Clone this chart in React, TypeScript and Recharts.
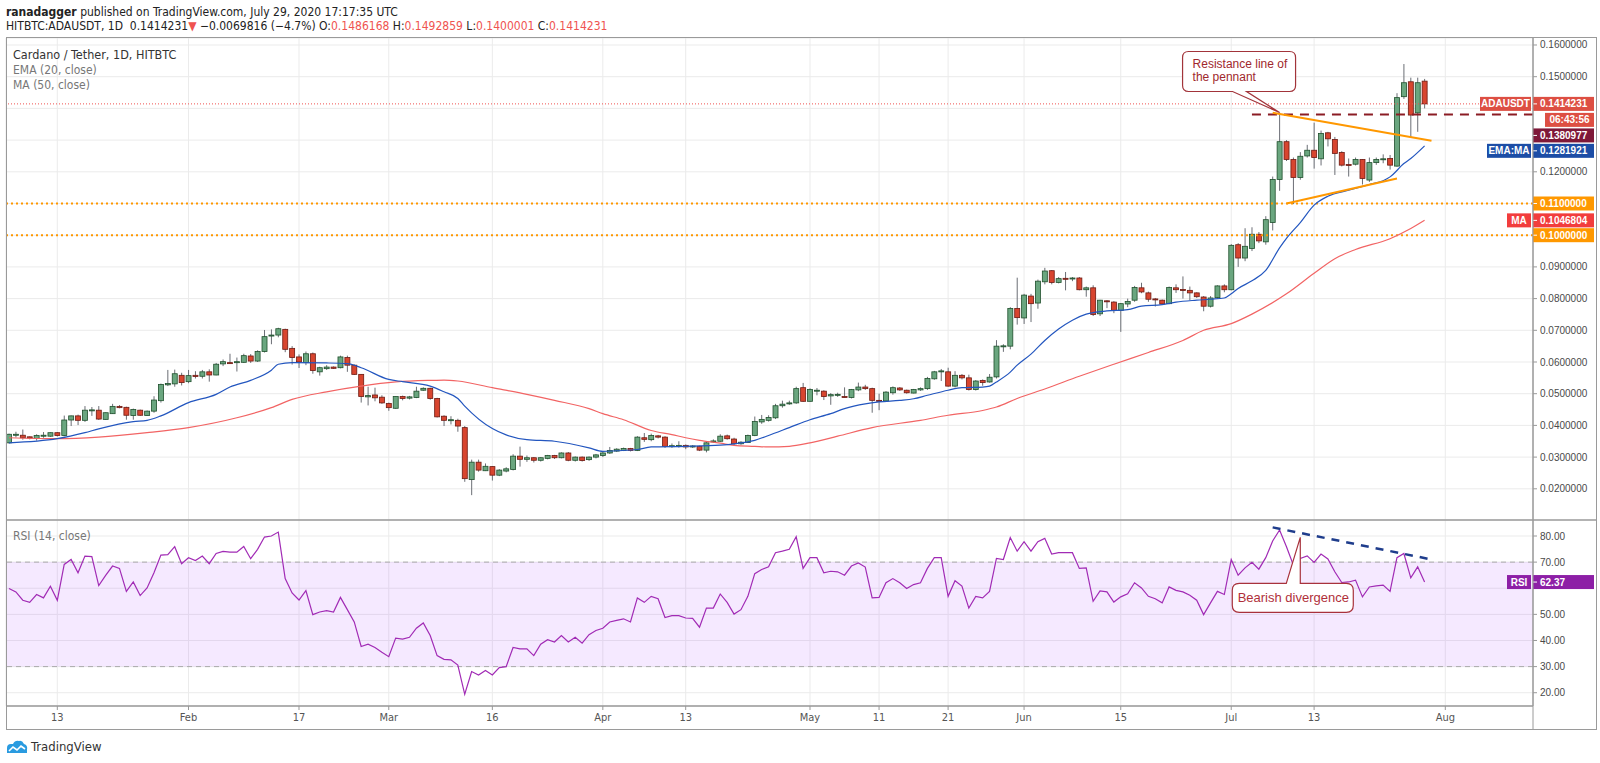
import React from "react";
import {
  ComposedChart,
  Bar,
  Line,
  XAxis,
  YAxis,
  CartesianGrid,
  ReferenceLine,
  ReferenceDot,
  ReferenceArea,
} from "recharts";

// daily candles, Jan 6 2020 (index 0) to Jul 29 2020 (index 205)
const opens = [
  0.0345, 0.037, 0.0369, 0.0364, 0.0359, 0.0367, 0.0366, 0.0377, 0.0368, 0.0417,
  0.043, 0.0416, 0.0448, 0.0448, 0.0419, 0.0437, 0.046, 0.0457, 0.0431, 0.0448,
  0.0431, 0.0445, 0.0478, 0.0528, 0.0531, 0.0558, 0.0538, 0.0558, 0.0555, 0.0569,
  0.0559, 0.0594, 0.0598, 0.0599, 0.0599, 0.0619, 0.0603, 0.0633, 0.0683, 0.0685,
  0.0703, 0.0643, 0.0616, 0.0598, 0.0626, 0.0569, 0.0579, 0.0584, 0.0582, 0.0614,
  0.059, 0.0561, 0.049, 0.0496, 0.0489, 0.0469, 0.0454, 0.0491, 0.0486, 0.0488,
  0.0511, 0.0517, 0.0485, 0.0429, 0.0417, 0.0416, 0.0393, 0.0229, 0.0284, 0.0257,
  0.027, 0.0243, 0.0256, 0.0261, 0.0303, 0.0293, 0.0298, 0.029, 0.0296, 0.0305,
  0.0298, 0.0313, 0.029, 0.03, 0.0292, 0.03, 0.0305, 0.0313, 0.0319, 0.0321,
  0.0327, 0.0321, 0.0361, 0.0355, 0.0367, 0.0363, 0.0333, 0.0334, 0.0337, 0.0332,
  0.0334, 0.0322, 0.0349, 0.035, 0.0367, 0.0357, 0.0342, 0.0346, 0.0368, 0.0411,
  0.0416, 0.0424, 0.0462, 0.0468, 0.0471, 0.0519, 0.0476, 0.051, 0.0508, 0.0493,
  0.0497, 0.0491, 0.0488, 0.0512, 0.0521, 0.0516, 0.0479, 0.0477, 0.0503, 0.0518,
  0.0511, 0.0502, 0.0512, 0.0516, 0.0547, 0.057, 0.0569, 0.0524, 0.0558, 0.055,
  0.0513, 0.0542, 0.0537, 0.0553, 0.065, 0.065, 0.0769, 0.0739, 0.0808, 0.0786,
  0.0853, 0.0888, 0.0851, 0.0864, 0.0864, 0.0865, 0.0828, 0.0834, 0.0752, 0.0793,
  0.0789, 0.0763, 0.0783, 0.0795, 0.0834, 0.0818, 0.0799, 0.0795, 0.0784, 0.0834,
  0.0829, 0.0826, 0.0818, 0.0805, 0.0776, 0.0803, 0.084, 0.0828, 0.097, 0.0928,
  0.0958, 0.1003, 0.0979, 0.104, 0.1176, 0.1295, 0.1239, 0.1182, 0.125, 0.1268,
  0.1241, 0.1323, 0.1302, 0.1261, 0.1223, 0.1224, 0.1239, 0.1174, 0.1229, 0.124,
  0.1242, 0.1218, 0.1437, 0.1484, 0.1386, 0.1486,
];

const highs = [
  0.0374, 0.038, 0.0387, 0.0365, 0.0372, 0.0379, 0.0378, 0.0379, 0.0431, 0.0431,
  0.0434, 0.0461, 0.0458, 0.0461, 0.0441, 0.0468, 0.0464, 0.0459, 0.0453, 0.045,
  0.0447, 0.0492, 0.0532, 0.0575, 0.0576, 0.0566, 0.0575, 0.0571, 0.0575, 0.0577,
  0.0597, 0.0608, 0.0626, 0.0614, 0.0626, 0.0625, 0.0637, 0.0701, 0.0703, 0.0708,
  0.0705, 0.065, 0.0624, 0.0633, 0.063, 0.0585, 0.059, 0.0586, 0.062, 0.062,
  0.0592, 0.0562, 0.0522, 0.0519, 0.0495, 0.0472, 0.0492, 0.0494, 0.0493, 0.0522,
  0.052, 0.0519, 0.0487, 0.0432, 0.0429, 0.0421, 0.0398, 0.0292, 0.0292, 0.028,
  0.0271, 0.0262, 0.0268, 0.0309, 0.0333, 0.0305, 0.03, 0.03, 0.0307, 0.0307,
  0.0315, 0.0316, 0.0302, 0.0302, 0.0302, 0.031, 0.0317, 0.0332, 0.0328, 0.033,
  0.0329, 0.0366, 0.0376, 0.0374, 0.037, 0.0366, 0.0343, 0.035, 0.034, 0.0338,
  0.0336, 0.0349, 0.0356, 0.0372, 0.0371, 0.0361, 0.035, 0.0371, 0.0428, 0.0433,
  0.0432, 0.0468, 0.0478, 0.0478, 0.0522, 0.0534, 0.0517, 0.0518, 0.0511, 0.0502,
  0.0503, 0.052, 0.0515, 0.0535, 0.0528, 0.0519, 0.05, 0.0508, 0.0523, 0.0521,
  0.0513, 0.0515, 0.052, 0.0553, 0.0572, 0.0578, 0.0582, 0.0571, 0.0562, 0.056,
  0.0543, 0.0545, 0.0562, 0.0669, 0.0656, 0.0773, 0.0866, 0.0815, 0.0815, 0.086,
  0.0897, 0.089, 0.0868, 0.0884, 0.0868, 0.0868, 0.0838, 0.0842, 0.0796, 0.0795,
  0.0792, 0.0786, 0.08, 0.084, 0.085, 0.0822, 0.0802, 0.0797, 0.0838, 0.0845,
  0.087, 0.0838, 0.082, 0.0808, 0.0808, 0.0842, 0.0845, 0.0972, 0.0975, 0.1022,
  0.1025, 0.101, 0.106, 0.1185, 0.1387, 0.13, 0.1245, 0.1262, 0.1285, 0.1355,
  0.133, 0.1326, 0.131, 0.1265, 0.1242, 0.1245, 0.124, 0.1245, 0.1245, 0.1255,
  0.1253, 0.1448, 0.154, 0.1497, 0.1497, 0.1493,
];

const lows = [
  0.0343, 0.0362, 0.0355, 0.0356, 0.0352, 0.0361, 0.0364, 0.0365, 0.0366, 0.0398,
  0.0401, 0.0411, 0.043, 0.0417, 0.0418, 0.0436, 0.0454, 0.0418, 0.0418, 0.043,
  0.043, 0.044, 0.0472, 0.0524, 0.0522, 0.0526, 0.0533, 0.0548, 0.0548, 0.0538,
  0.0558, 0.0587, 0.0596, 0.057, 0.0597, 0.0597, 0.06, 0.063, 0.0656, 0.0678,
  0.0631, 0.0592, 0.0581, 0.059, 0.0563, 0.0557, 0.0575, 0.0578, 0.058, 0.0569,
  0.0559, 0.0472, 0.0463, 0.0476, 0.0468, 0.0446, 0.0452, 0.0479, 0.0482, 0.0486,
  0.0509, 0.0481, 0.0425, 0.0398, 0.0403, 0.038, 0.0222, 0.018, 0.0254, 0.0256,
  0.0226, 0.024, 0.0252, 0.0258, 0.027, 0.0285, 0.0283, 0.0286, 0.0293, 0.0294,
  0.0296, 0.0287, 0.0286, 0.0286, 0.0288, 0.0296, 0.03, 0.031, 0.0316, 0.0319,
  0.0318, 0.0319, 0.0348, 0.035, 0.0359, 0.0329, 0.0329, 0.033, 0.0325, 0.0329,
  0.0319, 0.0315, 0.0345, 0.0348, 0.0355, 0.0338, 0.0339, 0.0345, 0.0366, 0.0405,
  0.0412, 0.042, 0.0456, 0.0465, 0.0468, 0.0474, 0.0475, 0.0495, 0.048, 0.0465,
  0.049, 0.0488, 0.0485, 0.0508, 0.0512, 0.044, 0.0448, 0.0475, 0.0497, 0.0509,
  0.05, 0.0501, 0.0509, 0.0512, 0.0544, 0.054, 0.0522, 0.052, 0.0545, 0.051,
  0.051, 0.0525, 0.0535, 0.0548, 0.0632, 0.064, 0.0718, 0.072, 0.0726, 0.0768,
  0.0845, 0.0845, 0.0848, 0.0826, 0.0855, 0.0826, 0.0806, 0.0745, 0.0745, 0.077,
  0.0754, 0.0695, 0.0773, 0.079, 0.0817, 0.079, 0.0775, 0.078, 0.0782, 0.0818,
  0.08, 0.0795, 0.0802, 0.076, 0.0772, 0.08, 0.082, 0.0826, 0.09, 0.0918,
  0.095, 0.0975, 0.097, 0.1015, 0.114, 0.1234, 0.1098, 0.1175, 0.1245, 0.121,
  0.122, 0.128, 0.119, 0.1217, 0.1185, 0.122, 0.116, 0.1168, 0.1222, 0.1227,
  0.1207, 0.1216, 0.143, 0.1308, 0.1326, 0.14,
];

const closes = [
  0.0372, 0.0372, 0.0361, 0.036, 0.0368, 0.0369, 0.0377, 0.0368, 0.0417, 0.043,
  0.0416, 0.0448, 0.0449, 0.042, 0.044, 0.046, 0.0456, 0.0432, 0.045, 0.0432,
  0.0445, 0.048, 0.0529, 0.0532, 0.0563, 0.0535, 0.0557, 0.0554, 0.0569, 0.0559,
  0.0593, 0.0601, 0.0597, 0.0601, 0.062, 0.0603, 0.0633, 0.068, 0.0685, 0.0705,
  0.064, 0.0614, 0.06, 0.0626, 0.0573, 0.0582, 0.0584, 0.058, 0.0616, 0.059,
  0.0561, 0.0491, 0.0494, 0.0487, 0.0471, 0.0456, 0.0491, 0.0485, 0.049, 0.0508,
  0.0517, 0.0485, 0.0427, 0.0416, 0.0418, 0.0398, 0.0232, 0.0284, 0.0259, 0.0271,
  0.0243, 0.0259, 0.0263, 0.0303, 0.0293, 0.0298, 0.029, 0.0298, 0.0305, 0.0298,
  0.0313, 0.029, 0.03, 0.0289, 0.03, 0.0307, 0.0313, 0.0321, 0.0325, 0.0327,
  0.0321, 0.0363, 0.0356, 0.0368, 0.0363, 0.0334, 0.0336, 0.0337, 0.0332, 0.0335,
  0.0322, 0.0345, 0.0351, 0.0366, 0.0358, 0.0342, 0.0347, 0.0368, 0.0412, 0.0419,
  0.0425, 0.0462, 0.0467, 0.0471, 0.0516, 0.0476, 0.0513, 0.0511, 0.0491, 0.0497,
  0.0498, 0.049, 0.0513, 0.0521, 0.0516, 0.0479, 0.0477, 0.0505, 0.0519, 0.0512,
  0.0503, 0.0513, 0.0516, 0.0548, 0.0569, 0.0572, 0.0524, 0.0558, 0.055, 0.0513,
  0.054, 0.0535, 0.0552, 0.065, 0.0651, 0.0769, 0.074, 0.0811, 0.0784, 0.0855,
  0.0887, 0.0851, 0.0863, 0.0863, 0.0865, 0.0828, 0.0834, 0.075, 0.0795, 0.0792,
  0.0763, 0.0784, 0.0791, 0.0835, 0.0821, 0.0798, 0.0797, 0.0783, 0.0835, 0.0828,
  0.0828, 0.0818, 0.0806, 0.0776, 0.0802, 0.084, 0.0828, 0.0968, 0.0928, 0.0965,
  0.1003, 0.0982, 0.1049, 0.1176, 0.1295, 0.1239, 0.1182, 0.1249, 0.1268, 0.1245,
  0.1321, 0.1304, 0.1258, 0.1221, 0.1222, 0.1239, 0.1179, 0.1229, 0.1239, 0.1241,
  0.1221, 0.1434, 0.1481, 0.1379, 0.1481, 0.1414231,
];

const rsiValues = [
  59.9, 58.6, 55.4, 54.6, 57.6, 56.3, 60.8, 55.4, 69.1, 71.0,
  65.9, 72.3, 72.1, 61.0, 64.9, 68.5, 67.6, 58.8, 62.4, 57.2,
  60.1, 65.9, 72.7, 72.9, 75.9, 69.4, 71.7, 70.6, 72.3, 69.4,
  73.3, 74.1, 73.8, 73.8, 76.0, 71.3, 74.9, 79.6, 80.0, 81.5,
  63.7, 58.2, 55.5, 59.1, 49.9, 50.9, 51.4, 50.9, 56.5, 51.8,
  47.1, 37.7, 38.6, 37.3, 35.5, 33.8, 40.9, 40.5, 41.2, 44.7,
  46.7, 41.9, 34.2, 32.8, 32.6, 30.6, 19.4, 28.1, 26.8, 28.5,
  26.8, 29.6, 30.0, 37.3, 36.8, 36.8, 34.2, 38.6, 40.3, 39.4,
  41.9, 39.4, 41.2, 39.0, 42.2, 43.8, 44.7, 47.1, 47.7, 48.3,
  47.1, 56.3, 54.6, 56.9, 56.0, 48.8, 49.5, 49.5, 48.6, 48.5,
  45.1, 52.4, 52.4, 57.8, 54.6, 50.1, 51.8, 56.9, 65.6, 67.2,
  68.2, 73.6, 74.2, 74.9, 79.7, 67.6, 71.7, 71.7, 65.9, 66.5,
  66.3, 65.0, 68.5, 69.7, 68.1, 56.3, 56.5, 62.1, 63.7, 62.1,
  59.9, 61.4, 62.1, 67.6, 71.7, 71.7, 56.9, 62.9, 60.8, 52.4,
  56.9, 56.3, 58.8, 71.4, 71.0, 79.4, 74.2, 77.8, 74.2, 77.8,
  79.1, 73.1, 73.6, 73.6, 73.6, 67.6, 67.8, 55.0, 59.0, 58.6,
  54.7, 56.7, 57.9, 62.1, 60.1, 56.9, 56.0, 54.4, 60.5, 59.2,
  58.6, 57.3, 55.4, 49.9, 54.4, 58.8, 57.6, 71.0, 65.0, 67.8,
  69.9, 67.3, 71.7, 78.1, 82.3, 75.9, 68.8, 71.4, 72.4, 69.9,
  73.1, 71.2, 66.3, 62.2, 62.4, 63.1, 56.7, 60.5, 60.9, 61.2,
  58.8, 71.7, 73.3, 64.0, 68.2, 62.37,
];

// EMA (20) and MA (50) at these day indexes
const emaDays = [
  0, 7, 11, 13, 18, 20, 22, 26, 30, 32, 35, 38, 39, 41, 46, 49, 51, 55, 57, 61,
  63, 65, 66, 70, 72, 75, 79, 84, 86, 88, 91, 93, 98, 103, 105, 108, 110, 113, 116, 119,
  121, 124, 126, 129, 131, 133, 136, 138, 141, 142, 143, 145, 146, 148, 150, 152, 154, 156, 159, 162,
  164, 167, 169, 172, 174, 176, 177, 178, 180, 182, 184, 185, 187, 189, 191, 194, 197, 199, 200, 202,
  203, 205,
];
const emaValues = [
  0.0345, 0.0358, 0.0377, 0.0389, 0.0412, 0.0416, 0.043, 0.0472, 0.0498, 0.0521, 0.0542, 0.0574, 0.0593, 0.0598, 0.0597, 0.0595, 0.0582, 0.0545, 0.0538, 0.0524,
  0.0506, 0.0485, 0.0461, 0.039, 0.037, 0.0355, 0.035, 0.0329, 0.0318, 0.032, 0.0324, 0.0332, 0.0334, 0.0338, 0.0342, 0.0353, 0.0368, 0.0393, 0.0418, 0.0437,
  0.0453, 0.0468, 0.0474, 0.0479, 0.0484, 0.0495, 0.0511, 0.0519, 0.0521, 0.0524, 0.0537, 0.0568, 0.059, 0.0625, 0.0668, 0.0704, 0.0732, 0.0751, 0.0761, 0.0765,
  0.0776, 0.0781, 0.0789, 0.0795, 0.0798, 0.0802, 0.0815, 0.0832, 0.0856, 0.0889, 0.096, 0.099, 0.104, 0.1095, 0.1123, 0.1142, 0.116, 0.1172, 0.1184, 0.1226,
  0.1242, 0.1281921,
];
const maDays = [
  0, 7, 13, 20, 26, 33, 38, 41, 46, 51, 56, 61, 63, 65, 70, 75, 79, 84, 86, 89,
  93, 96, 98, 100, 103, 105, 108, 110, 113, 116, 120, 125, 132, 136, 141, 143, 146, 150, 155, 160,
  165, 170, 173, 177, 180, 185, 189, 192, 195, 200, 203, 205,
];
const maValues = [
  0.0361, 0.0358, 0.0363, 0.0377, 0.0393, 0.0424, 0.0456, 0.0482, 0.0506, 0.0524, 0.0537, 0.0542, 0.0543, 0.054, 0.0519, 0.0498, 0.0479, 0.0453, 0.0437, 0.0418,
  0.0384, 0.0371, 0.0361, 0.0353, 0.0344, 0.0337, 0.0334, 0.0332, 0.0334, 0.0345, 0.0366, 0.0393, 0.0416, 0.0432, 0.0447, 0.0458, 0.0485, 0.0515, 0.0555, 0.0593,
  0.063, 0.0668, 0.07, 0.0721, 0.0751, 0.0815, 0.088, 0.0926, 0.0955, 0.0989, 0.1021, 0.1046804,
];

const tickDays = [7, 26, 42, 55, 70, 86, 98, 116, 126, 136, 147, 161, 177, 189, 208];
const tickLabels = ["13", "Feb", "17", "Mar", "16", "Apr", "13", "May", "11", "21", "Jun", "15", "Jul", "13", "Aug"];
const priceTicks = [0.02, 0.03, 0.04, 0.05, 0.06, 0.07, 0.08, 0.09, 0.1, 0.11, 0.12, 0.13, 0.14, 0.15, 0.16];
const rsiTicks = [20, 30, 40, 50, 60, 70, 80];

const X_MIN = -0.43;
const X_MAX = 220.7;

const NARROW = "'Liberation Sans Narrow', 'DejaVu Sans Condensed', 'Roboto', sans-serif";
const SANS = "'Liberation Sans', Arial, sans-serif";

const candles = opens.map((o, i) => ({
  i,
  open: o,
  high: highs[i],
  low: lows[i],
  close: closes[i],
  range: [lows[i], highs[i]],
}));
const rsiData = rsiValues.map((v, i) => ({ i, rsi: v }));
const emaData = emaDays.map((d, k) => ({ i: d, v: emaValues[k] }));
const maData = maDays.map((d, k) => ({ i: d, v: maValues[k] }));

const Candle = (props: any) => {
  const { x, y, width, height, payload } = props;
  if (!payload || height == null || isNaN(y)) return null;
  const { open, close, high, low } = payload;
  const top = Math.min(y, y + height);
  const h = Math.abs(height);
  const k = h / (high - low);
  const py = (v: number) => top + (high - v) * k;
  const up = close >= open;
  const b1 = py(Math.max(open, close));
  const b2 = py(Math.min(open, close));
  const cx = x + width / 2;
  return (
    <g>
      <line x1={cx} x2={cx} y1={top} y2={top + h} stroke="#6b6e75" strokeWidth={1} />
      <rect
        x={x}
        y={b1}
        width={width}
        height={Math.max(b2 - b1, 1)}
        fill={up ? "#6aa67f" : "#d8452f"}
        stroke={up ? "#1f4f2c" : "#6d1a12"}
        strokeWidth={0.8}
      />
    </g>
  );
};

const PriceTick = (props: any) => {
  const { x, y, payload } = props;
  const c = Math.round(payload.value * 100);
  if (c === 10 || c === 11 || c === 13 || c === 14) return null;
  return (
    <text x={x} y={y + 3.5} fontSize={10} fill="#4a4a4a" fontFamily={SANS}>
      {payload.value.toFixed(7)}
    </text>
  );
};

const RsiTick = (props: any) => {
  const { x, y, payload } = props;
  if (payload.value === 60) return null;
  return (
    <text x={x} y={y + 3.5} fontSize={10} fill="#4a4a4a" fontFamily={SANS}>
      {payload.value.toFixed(2)}
    </text>
  );
};

const tag =
  (text: string, color: string, side?: string, sideW = 0, dy = 0, timer?: string) =>
  (props: any) => {
    const { cx, cy } = props;
    const y = cy + dy;
    return (
      <g fontFamily={SANS} fontWeight="bold" fontSize={10}>
        {side ? (
          <g>
            <rect x={cx - 2 - sideW} y={y - 7} width={sideW} height={14} fill={color} />
            <text x={cx - 2 - sideW / 2} y={y + 3.5} textAnchor="middle" fill="#fff">
              {side}
            </text>
          </g>
        ) : null}
        <rect x={cx} y={y - 7} width={61} height={14} fill={color} />
        <line x1={cx} x2={cx + 4} y1={y} y2={y} stroke="#fff" />
        <text x={cx + 7} y={y + 3.5} fill="#fff">
          {text}
        </text>
        {timer ? (
          <g>
            <rect x={cx + 12} y={y + 9} width={49} height={14} fill={color} />
            <text x={cx + 36.5} y={y + 19.5} textAnchor="middle" fill="#fff">
              {timer}
            </text>
          </g>
        ) : null}
      </g>
    );
  };

const ResistanceNote = (props: any) => {
  const { cx, cy } = props;
  const l = cx - 97;
  const r = cx + 16;
  const t = cy - 61;
  const b = cy - 21;
  const q = 6;
  const d = `M${l + q},${t} H${r - q} Q${r},${t} ${r},${t + q} V${b - q} Q${r},${b} ${r - q},${b} H${cx - 33} L${cx},${cy} L${cx - 47},${b} H${l + q} Q${l},${b} ${l},${b - q} V${t + q} Q${l},${t} ${l + q},${t} Z`;
  return (
    <g>
      <path d={d} fill="#fff" stroke="#a2343a" strokeWidth={1.2} />
      <text x={l + 10} y={t + 16} fontSize={12} fill="#a0282d" fontFamily={SANS}>
        Resistance line of
      </text>
      <text x={l + 10} y={t + 29} fontSize={12} fill="#a0282d" fontFamily={SANS}>
        the pennant
      </text>
    </g>
  );
};

const DivergenceNote = (props: any) => {
  const { cx, cy } = props;
  const l = cx - 68;
  const r = cx + 53;
  const t = cy + 46;
  const b = cy + 75;
  const q = 7;
  const d = `M${l + q},${t} H${cx - 14} L${cx},${cy} L${cx},${t} H${r - q} Q${r},${t} ${r},${t + q} V${b - q} Q${r},${b} ${r - q},${b} H${l + q} Q${l},${b} ${l},${b - q} V${t + q} Q${l},${t} ${l + q},${t} Z`;
  return (
    <g>
      <path d={d} fill="#fff" stroke="#a8323c" strokeWidth={1.2} />
      <text x={cx - 7} y={cy + 65} textAnchor="middle" fontSize={13} fill="#b0303a" fontFamily={SANS}>
        Bearish divergence
      </text>
    </g>
  );
};

const red = "#ef5350";

export default function App() {
  return (
    <div
      style={{
        position: "fixed",
        left: 0,
        top: 0,
        width: 1600,
        height: 763,
        background: "#fff",
        overflow: "hidden",
        fontFamily: NARROW,
      }}
    >
      <div style={{ position: "absolute", left: 6, top: 5, fontSize: 12, lineHeight: "14px", color: "#222", whiteSpace: "nowrap" }}>
        <b>ranadagger</b> published on TradingView.com, July 29, 2020 17:17:35 UTC
      </div>
      <div style={{ position: "absolute", left: 6, top: 19, fontSize: 12, lineHeight: "14px", color: "#222", whiteSpace: "nowrap" }}>
        HITBTC:ADAUSDT, 1D&nbsp; 0.1414231<span style={{ color: red }}>▼</span> −0.0069816 (−4.7%) O:
        <span style={{ color: red }}>0.1486168</span> H:<span style={{ color: red }}>0.1492859</span> L:
        <span style={{ color: red }}>0.1400001</span> C:<span style={{ color: red }}>0.1414231</span>
      </div>

      <div style={{ position: "absolute", left: 0, top: 0 }}>
        <ComposedChart width={1600} height={520} data={candles} margin={{ top: 38, right: 0, bottom: 0, left: 6 }}>
          <CartesianGrid stroke="#ebebeb" />
          <XAxis
            xAxisId={0}
            dataKey="i"
            type="number"
            domain={[X_MIN, X_MAX]}
            ticks={tickDays}
            interval={0}
            allowDataOverflow
            hide
          />
          <YAxis
            orientation="right"
            width={67}
            domain={[0.010158, 0.162208]}
            ticks={priceTicks}
            interval={0}
            allowDataOverflow
            tickSize={4}
            tickMargin={3}
            tick={PriceTick}
            axisLine={{ stroke: "#999" }}
            tickLine={{ stroke: "#999" }}
          />
          <ReferenceLine y={0.11} stroke="#ff9800" strokeWidth={2} strokeDasharray="2 3" />
          <ReferenceLine y={0.1} stroke="#ff9800" strokeWidth={2} strokeDasharray="2 3" />
          <ReferenceLine y={0.1414231} stroke={red} strokeWidth={1} strokeDasharray="1 2" />
          <Bar dataKey="range" shape={Candle} barSize={5} isAnimationActive={false} />
          <Line data={maData} dataKey="v" type="monotone" stroke="#f26464" strokeWidth={1.2} dot={false} isAnimationActive={false} />
          <Line data={emaData} dataKey="v" type="monotone" stroke="#2356bf" strokeWidth={1.2} dot={false} isAnimationActive={false} />
          <ReferenceLine
            segment={[{ x: 180, y: 0.1381 }, { x: X_MAX, y: 0.1381 }]}
            stroke="#8b1c24"
            strokeWidth={2}
            strokeDasharray="9 7"
            ifOverflow="visible"
          />
          <ReferenceLine segment={[{ x: 183, y: 0.1386 }, { x: 206, y: 0.1298 }]} stroke="#ff9800" strokeWidth={2} />
          <ReferenceLine segment={[{ x: 185, y: 0.11 }, { x: 201, y: 0.1179 }]} stroke="#ff9800" strokeWidth={2} />
          <ReferenceDot x={184} y={0.1387} r={0} ifOverflow="visible" shape={ResistanceNote} />
          <ReferenceDot x={X_MAX} y={0.1414231} r={0} ifOverflow="visible" shape={tag("0.1414231", "#dd4f43", "ADAUSDT", 51, 0, "06:43:56")} />
          <ReferenceDot x={X_MAX} y={0.1380977} r={0} ifOverflow="visible" shape={tag("0.1380977", "#7e1838", undefined, 0, 21)} />
          <ReferenceDot x={X_MAX} y={0.1281921} r={0} ifOverflow="visible" shape={tag("0.1281921", "#1c4da6", "EMA:MA", 44, 5)} />
          <ReferenceDot x={X_MAX} y={0.11} r={0} ifOverflow="visible" shape={tag("0.1100000", "#ff9800")} />
          <ReferenceDot x={X_MAX} y={0.1046804} r={0} ifOverflow="visible" shape={tag("0.1046804", "#f23d3d", "MA", 24)} />
          <ReferenceDot x={X_MAX} y={0.1} r={0} ifOverflow="visible" shape={tag("0.1000000", "#ff9800")} />
        </ComposedChart>
      </div>

      <div style={{ position: "absolute", left: 0, top: 520 }}>
        <ComposedChart width={1600} height={210} data={rsiData} margin={{ top: 0, right: 0, bottom: 0, left: 6 }}>
          <CartesianGrid stroke="#ebebeb" />
          <XAxis
            dataKey="i"
            type="number"
            domain={[X_MIN, X_MAX]}
            ticks={tickDays}
            interval={0}
            allowDataOverflow
            height={24}
            tickSize={4}
            tickMargin={3}
            tickFormatter={(v: number) => tickLabels[tickDays.indexOf(v)]}
            tick={{ fontSize: 11, fill: "#555", fontFamily: NARROW }}
            axisLine={{ stroke: "#999", strokeWidth: 1.5 }}
            tickLine={{ stroke: "#999" }}
          />
          <YAxis
            orientation="right"
            width={67}
            domain={[14.916, 86.126]}
            ticks={rsiTicks}
            interval={0}
            allowDataOverflow
            tickSize={4}
            tickMargin={3}
            tick={RsiTick}
            axisLine={{ stroke: "#999" }}
            tickLine={{ stroke: "#999" }}
          />
          <ReferenceArea y1={30} y2={70} fill="#9c27ff" fillOpacity={0.1} stroke="none" />
          <ReferenceLine y={70} stroke="#aaa" strokeDasharray="5 4" />
          <ReferenceLine y={30} stroke="#aaa" strokeDasharray="5 4" />
          <Line dataKey="rsi" type="linear" stroke="#a12bb5" strokeWidth={1.2} dot={false} isAnimationActive={false} />
          <ReferenceLine
            segment={[{ x: 183, y: 83.3 }, { x: 206.4, y: 70.8 }]}
            stroke="#1f3d8c"
            strokeWidth={2.5}
            strokeDasharray="8 7"
          />
          <ReferenceDot x={187} y={79.5} r={0} ifOverflow="visible" shape={DivergenceNote} />
          <ReferenceDot x={X_MAX} y={62.37} r={0} ifOverflow="visible" shape={tag("62.37", "#8d1fa6", "RSI", 24)} />
        </ComposedChart>
      </div>

      <svg
        width={1600}
        height={763}
        style={{ position: "absolute", left: 0, top: 0, pointerEvents: "none" }}
      >
        <rect x={6.5} y={37.5} width={1590} height={692} fill="none" stroke="#9a9a9a" strokeWidth={1} />
        <line x1={6} x2={1597} y1={520} y2={520} stroke="#9a9a9a" strokeWidth={1.5} />
        <line x1={1533} x2={1533} y1={38} y2={730} stroke="#9a9a9a" strokeWidth={1} />
        <g transform="translate(6,740)">
          <path d="M1 13 L1 8 Q1 4 5 4 L7 4 Q9 0 13 1 Q16 0 18 4 Q22 5 21 10 L21 13 Z" fill="#2a9be0" />
          <polyline points="3,11 7,7 11,10 15,6 19,9" fill="none" stroke="#fff" strokeWidth={1.6} />
        </g>
      </svg>

      <div style={{ position: "absolute", left: 13, top: 48, fontSize: 12.5, lineHeight: "14px", color: "#333", whiteSpace: "nowrap" }}>
        Cardano / Tether, 1D, HITBTC
      </div>
      <div style={{ position: "absolute", left: 13, top: 63, fontSize: 12, lineHeight: "14px", color: "#777", whiteSpace: "nowrap" }}>
        EMA (20, close)
      </div>
      <div style={{ position: "absolute", left: 13, top: 78, fontSize: 12, lineHeight: "14px", color: "#777", whiteSpace: "nowrap" }}>
        MA (50, close)
      </div>
      <div style={{ position: "absolute", left: 13, top: 529, fontSize: 12, lineHeight: "14px", color: "#777", whiteSpace: "nowrap" }}>
        RSI (14, close)
      </div>
      <div style={{ position: "absolute", left: 31, top: 740, fontSize: 13, lineHeight: "14px", color: "#333", whiteSpace: "nowrap" }}>
        TradingView
      </div>
    </div>
  );
}
